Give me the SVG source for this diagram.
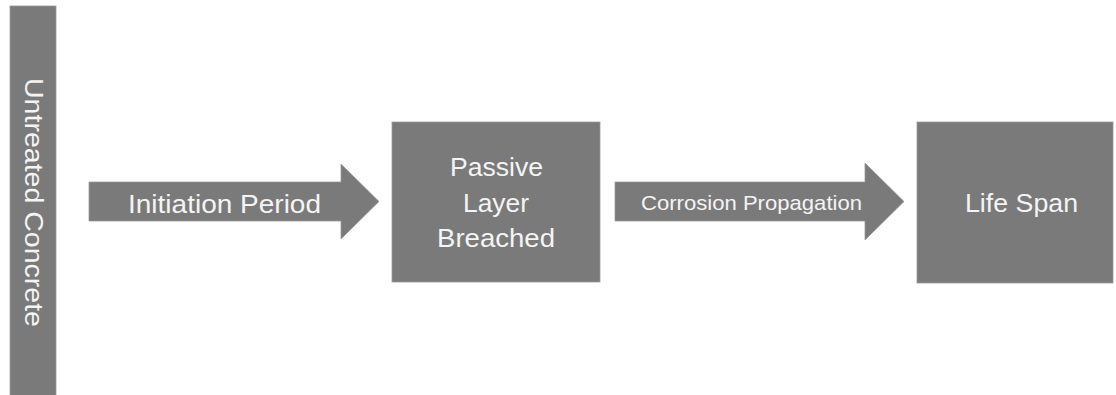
<svg xmlns="http://www.w3.org/2000/svg" width="1116" height="395" viewBox="0 0 1116 395">
  <style>
    .shape { fill: #7a7a7a; stroke: #9a9a9a; stroke-width: 0.8; }
    .label { fill: #f4f4f4; font-family: "Liberation Sans", Arial, sans-serif; }
    .big { font-size: 25px; }
    .small { font-size: 21px; }
  </style>
  <rect width="1116" height="395" fill="#ffffff"/>

  <g id="untreated-concrete">
    <rect class="shape" x="10" y="6" width="46" height="395"/>
    <text class="label big" transform="translate(25,78) rotate(90)" x="0" y="0" textLength="249" lengthAdjust="spacingAndGlyphs">Untreated Concrete</text>
  </g>

  <g id="connectors">
    <g id="initiation-period">
      <polygon class="shape" points="89,182 341,182 341,164 379,201.5 341,239 341,221 89,221"/>
      <text class="label big" x="128" y="213" textLength="193" lengthAdjust="spacingAndGlyphs">Initiation Period</text>
    </g>
    <g id="corrosion-propagation">
      <polygon class="shape" points="615,182 865,182 865,163 904,201.5 865,240 865,221 615,221"/>
      <text class="label small" x="641" y="210" textLength="221" lengthAdjust="spacingAndGlyphs">Corrosion Propagation</text>
    </g>
  </g>

  <g id="passive-layer-breached">
    <rect class="shape" x="392" y="122" width="208" height="160"/>
    <text class="label big" x="450" y="176" textLength="93" lengthAdjust="spacingAndGlyphs">Passive</text>
    <text class="label big" x="463" y="212" textLength="66" lengthAdjust="spacingAndGlyphs">Layer</text>
    <text class="label big" x="437" y="247" textLength="118" lengthAdjust="spacingAndGlyphs">Breached</text>
  </g>

  <g id="life-span">
    <rect class="shape" x="917" y="122" width="196" height="161"/>
    <text class="label big" x="965" y="212" textLength="113" lengthAdjust="spacingAndGlyphs">Life Span</text>
  </g>
</svg>
